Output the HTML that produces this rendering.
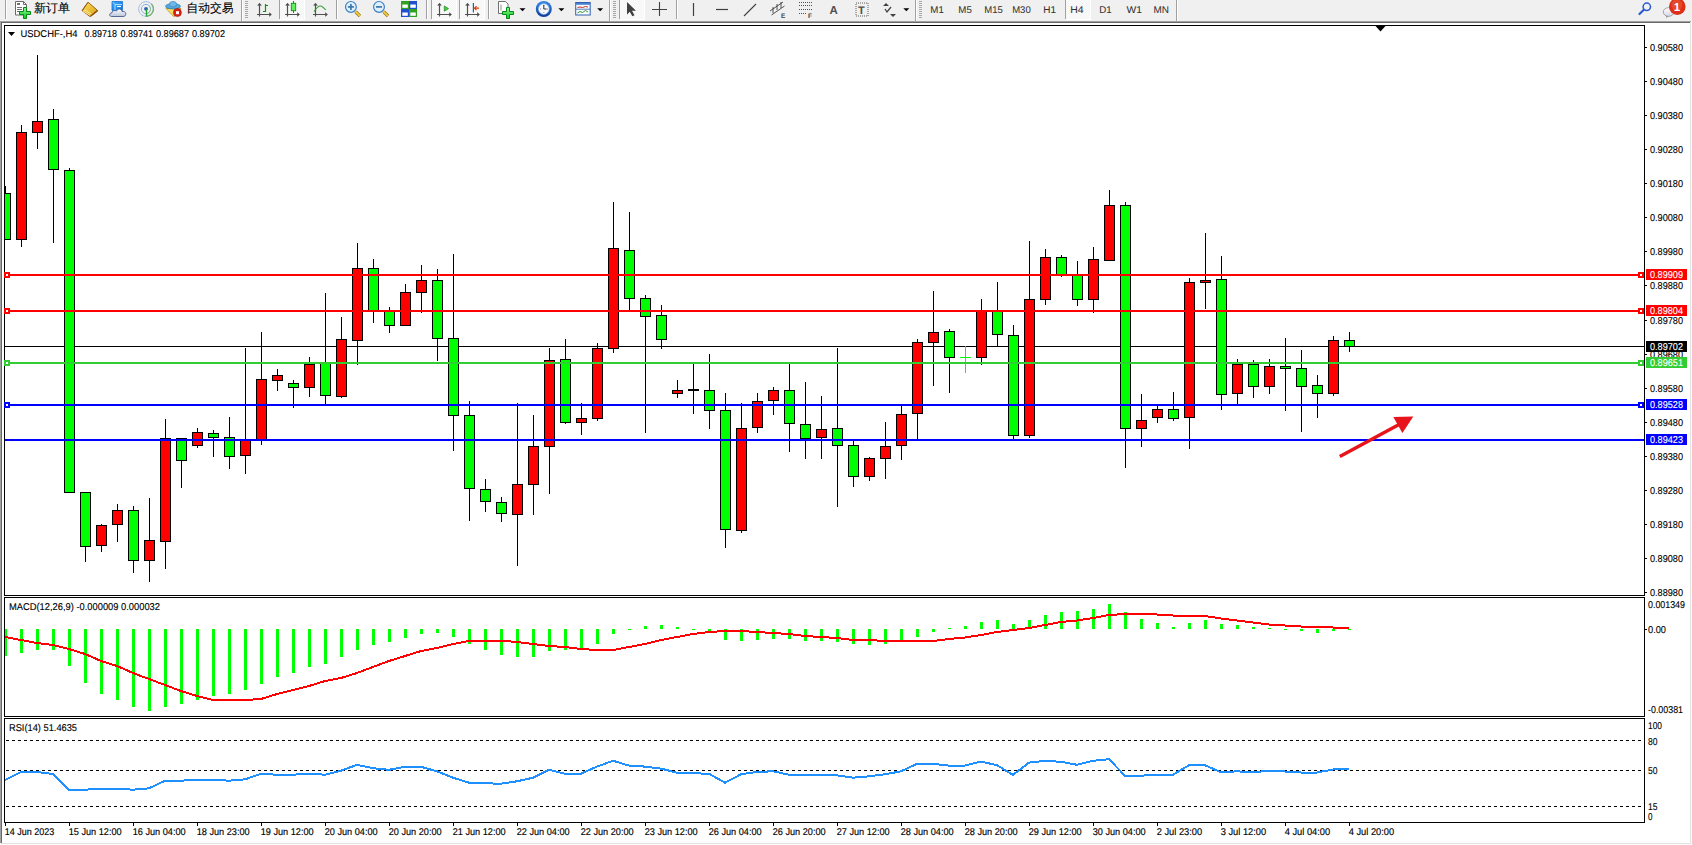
<!DOCTYPE html><html><head><meta charset="utf-8"><style>
html,body{margin:0;padding:0;width:1692px;height:845px;overflow:hidden;background:#f0f0f0}
svg{display:block;position:absolute;left:0;top:0}
text{font-family:"Liberation Sans",sans-serif;text-rendering:geometricPrecision}
</style></head><body>
<svg width="1692" height="845" viewBox="0 0 1692 845" shape-rendering="crispEdges">
<defs><clipPath id="cm"><rect x="5" y="26" width="1639" height="569"/></clipPath><clipPath id="cmacd"><rect x="5" y="598" width="1639" height="118"/></clipPath><clipPath id="crsi"><rect x="5" y="719" width="1639" height="103"/></clipPath></defs>
<rect x="0" y="0" width="1692" height="845" fill="#f0f0f0"/>
<g id="toolbar">
<rect x="5" y="0" width="1" height="19" fill="#a0a0a0"/>
<rect x="6" y="0" width="1" height="19" fill="#ffffff"/>
<rect x="279" y="0" width="1" height="19" fill="#a0a0a0"/>
<rect x="280" y="0" width="1" height="19" fill="#ffffff"/>
<rect x="336" y="0" width="1" height="19" fill="#a0a0a0"/>
<rect x="337" y="0" width="1" height="19" fill="#ffffff"/>
<rect x="426" y="0" width="1" height="19" fill="#a0a0a0"/>
<rect x="427" y="0" width="1" height="19" fill="#ffffff"/>
<rect x="431" y="0" width="1" height="19" fill="#a0a0a0"/>
<rect x="432" y="0" width="1" height="19" fill="#ffffff"/>
<rect x="459" y="0" width="1" height="19" fill="#a0a0a0"/>
<rect x="460" y="0" width="1" height="19" fill="#ffffff"/>
<rect x="488" y="0" width="1" height="19" fill="#a0a0a0"/>
<rect x="489" y="0" width="1" height="19" fill="#ffffff"/>
<rect x="619" y="0" width="1" height="19" fill="#a0a0a0"/>
<rect x="620" y="0" width="1" height="19" fill="#ffffff"/>
<rect x="676" y="0" width="1" height="19" fill="#a0a0a0"/>
<rect x="677" y="0" width="1" height="19" fill="#ffffff"/>
<rect x="1065" y="0" width="1" height="19" fill="#a0a0a0"/>
<rect x="1066" y="0" width="1" height="19" fill="#ffffff"/>
<rect x="241" y="0" width="1" height="21" fill="#a0a0a0"/>
<rect x="242" y="0" width="1" height="21" fill="#ffffff"/>
<rect x="609" y="0" width="1" height="21" fill="#a0a0a0"/>
<rect x="610" y="0" width="1" height="21" fill="#ffffff"/>
<rect x="915" y="0" width="1" height="21" fill="#a0a0a0"/>
<rect x="916" y="0" width="1" height="21" fill="#ffffff"/>
<rect x="1176" y="0" width="1" height="21" fill="#a0a0a0"/>
<rect x="1177" y="0" width="1" height="21" fill="#ffffff"/>
<rect x="245" y="1" width="3" height="1" fill="#a8a8a8"/>
<rect x="245" y="3" width="3" height="1" fill="#a8a8a8"/>
<rect x="245" y="5" width="3" height="1" fill="#a8a8a8"/>
<rect x="245" y="7" width="3" height="1" fill="#a8a8a8"/>
<rect x="245" y="9" width="3" height="1" fill="#a8a8a8"/>
<rect x="245" y="11" width="3" height="1" fill="#a8a8a8"/>
<rect x="245" y="13" width="3" height="1" fill="#a8a8a8"/>
<rect x="245" y="15" width="3" height="1" fill="#a8a8a8"/>
<rect x="245" y="17" width="3" height="1" fill="#a8a8a8"/>
<rect x="613" y="1" width="3" height="1" fill="#a8a8a8"/>
<rect x="613" y="3" width="3" height="1" fill="#a8a8a8"/>
<rect x="613" y="5" width="3" height="1" fill="#a8a8a8"/>
<rect x="613" y="7" width="3" height="1" fill="#a8a8a8"/>
<rect x="613" y="9" width="3" height="1" fill="#a8a8a8"/>
<rect x="613" y="11" width="3" height="1" fill="#a8a8a8"/>
<rect x="613" y="13" width="3" height="1" fill="#a8a8a8"/>
<rect x="613" y="15" width="3" height="1" fill="#a8a8a8"/>
<rect x="613" y="17" width="3" height="1" fill="#a8a8a8"/>
<rect x="919" y="1" width="3" height="1" fill="#a8a8a8"/>
<rect x="919" y="3" width="3" height="1" fill="#a8a8a8"/>
<rect x="919" y="5" width="3" height="1" fill="#a8a8a8"/>
<rect x="919" y="7" width="3" height="1" fill="#a8a8a8"/>
<rect x="919" y="9" width="3" height="1" fill="#a8a8a8"/>
<rect x="919" y="11" width="3" height="1" fill="#a8a8a8"/>
<rect x="919" y="13" width="3" height="1" fill="#a8a8a8"/>
<rect x="919" y="15" width="3" height="1" fill="#a8a8a8"/>
<rect x="919" y="17" width="3" height="1" fill="#a8a8a8"/>
<defs><pattern id="chk" width="2" height="2" patternUnits="userSpaceOnUse"><rect width="2" height="2" fill="#f4f4f4"/><rect width="1" height="1" fill="#fcfcfc"/><rect x="1" y="1" width="1" height="1" fill="#fcfcfc"/></pattern></defs>
<rect x="280" y="0" width="24" height="19" fill="url(#chk)"/>
<rect x="304" y="0" width="1" height="20" fill="#ffffff"/>
<rect x="280" y="19" width="24" height="1" fill="#ffffff"/>
<rect x="432" y="0" width="24" height="19" fill="url(#chk)"/>
<rect x="456" y="0" width="1" height="20" fill="#ffffff"/>
<rect x="432" y="19" width="24" height="1" fill="#ffffff"/>
<rect x="460" y="0" width="24" height="19" fill="url(#chk)"/>
<rect x="484" y="0" width="1" height="20" fill="#ffffff"/>
<rect x="460" y="19" width="24" height="1" fill="#ffffff"/>
<rect x="620" y="0" width="24" height="19" fill="url(#chk)"/>
<rect x="644" y="0" width="1" height="20" fill="#ffffff"/>
<rect x="620" y="19" width="24" height="1" fill="#ffffff"/>
<rect x="1066" y="0" width="24" height="19" fill="url(#chk)"/>
<rect x="1090" y="0" width="1" height="20" fill="#ffffff"/>
<rect x="1066" y="19" width="24" height="1" fill="#ffffff"/>
<defs><linearGradient id="gpl" x1="0" y1="0" x2="0" y2="1"><stop offset="0" stop-color="#9af09a"/><stop offset="1" stop-color="#00d020"/></linearGradient><linearGradient id="gyl" x1="0" y1="0" x2="1" y2="1"><stop offset="0" stop-color="#ffe060"/><stop offset="1" stop-color="#d8a010"/></linearGradient><linearGradient id="gcl" x1="0" y1="0" x2="0" y2="1"><stop offset="0" stop-color="#ffffff"/><stop offset="1" stop-color="#b8c4d8"/></linearGradient><linearGradient id="gbl" x1="0" y1="0" x2="1" y2="1"><stop offset="0" stop-color="#40b0ff"/><stop offset="1" stop-color="#0070e0"/></linearGradient></defs>
<g shape-rendering="geometricPrecision">
<path d="M15.5 1.5h8l3 3v10.5h-11z" fill="#fff" stroke="#6a6a6a" stroke-width="1"/>
<path d="M23.5 1.5v3h3" fill="none" stroke="#6a6a6a" stroke-width="1"/>
<rect x="17" y="3" width="3" height="2" fill="#707070"/>
<path d="M17 7.5h5M17 9.5h5M17 11.5h3" stroke="#707070" stroke-width="1"/>
<path d="M23.5 7.5h3v4h4v3h-4v4h-3v-4h-4v-3h4z" fill="url(#gpl)" stroke="#008a10" stroke-width="1"/>
<path d="M88 2.2 L97.7 10.5 L90 16.6 L82 10.5 Z" fill="url(#gyl)" stroke="#9a6010" stroke-width="1"/>
<path d="M83 11 L90.5 15.5 M84 9.5 L91.5 14" stroke="#f8e8a0" stroke-width="1"/>
<path d="M88 2.5 C86 5 85 7 82.5 10.5" stroke="#9a6010" stroke-width="1" fill="none"/>
<path d="M90.5 16.2 L97.5 10.6" stroke="#8a5008" stroke-width="1.4" fill="none"/>
<path d="M112 1.5h10.5v9h-10.5z" fill="url(#gbl)" stroke="#1a70d0" stroke-width="0.8"/>
<path d="M113 2.5l2 2v6M115 4.5h7" stroke="#c0e4ff" stroke-width="0.9" fill="none"/>
<path d="M117 6.5h4" stroke="#fff" stroke-width="1.2"/>
<path d="M111.5 16.5 C109 16.5 109 12.8 112 12.8 C112 10.5 115 10 116.5 11 C117.5 8.3 121.5 8.3 122 11.5 C125 11 126.5 13 125.5 15 C125 16.3 124 16.5 123 16.5 Z" fill="url(#gcl)" stroke="#485a8a" stroke-width="0.9"/>
<circle cx="146" cy="9" r="7.3" fill="none" stroke="#7aa0d8" stroke-width="1" stroke-dasharray="1.2,0.6"/>
<path d="M151.2 3.8 A7.3 7.3 0 0 1 146 16.3" fill="none" stroke="#70b070" stroke-width="1.2"/>
<circle cx="146" cy="9" r="4.6" fill="none" stroke="#8ab0d8" stroke-width="1"/>
<path d="M149.3 5.8 A4.6 4.6 0 0 1 146 13.6" fill="none" stroke="#90c090" stroke-width="1"/>
<circle cx="146" cy="8.8" r="1.9" fill="#2a5ac8"/>
<path d="M146.5 9v7.5" stroke="#20a030" stroke-width="1.3" fill="none"/>
<path d="M166 8.5 L181 8.5 L174 16.8 Z" fill="#f8e060" stroke="#c09020" stroke-width="0.8"/>
<ellipse cx="173" cy="6.3" rx="7.5" ry="2.6" fill="#58a8e0" stroke="#2a80b0" stroke-width="0.8"/>
<ellipse cx="173" cy="4.2" rx="3.6" ry="2.8" fill="#70b8ea" stroke="#2a80b0" stroke-width="0.6"/>
<circle cx="177.4" cy="12.6" r="4" fill="#e02010" stroke="#a01008" stroke-width="0.6"/>
<rect x="176" y="11.2" width="3" height="3" fill="#fff"/>
<path d="M259.5 3.5v13M257.0 14.5h14" stroke="#505050" stroke-width="1.2" fill="none"/>
<path d="M257.7 5.3l1.8-2l1.8 2z M269.5 12.7l2 1.8l-2 1.8z" fill="#505050" stroke="#505050" stroke-width="0.6"/>
<path d="M287.5 3.5v13M285.0 14.5h14" stroke="#505050" stroke-width="1.2" fill="none"/>
<path d="M285.7 5.3l1.8-2l1.8 2z M297.5 12.7l2 1.8l-2 1.8z" fill="#505050" stroke="#505050" stroke-width="0.6"/>
<path d="M315.5 3.5v13M313.0 14.5h14" stroke="#505050" stroke-width="1.2" fill="none"/>
<path d="M313.7 5.3l1.8-2l1.8 2z M325.5 12.7l2 1.8l-2 1.8z" fill="#505050" stroke="#505050" stroke-width="0.6"/>
<path d="M439.5 3.5v13M437.0 14.5h14" stroke="#505050" stroke-width="1.2" fill="none"/>
<path d="M437.7 5.3l1.8-2l1.8 2z M449.5 12.7l2 1.8l-2 1.8z" fill="#505050" stroke="#505050" stroke-width="0.6"/>
<path d="M467.5 3.5v13M465.0 14.5h14" stroke="#505050" stroke-width="1.2" fill="none"/>
<path d="M465.7 5.3l1.8-2l1.8 2z M477.5 12.7l2 1.8l-2 1.8z" fill="#505050" stroke="#505050" stroke-width="0.6"/>
<path d="M263 11.5h2.5v-7.5M265.5 5.5h2.5" stroke="#109010" stroke-width="1.2" fill="none"/>
<rect x="291.3" y="3.3" width="4.4" height="7.4" fill="#60f060" stroke="#109010" stroke-width="0.9"/>
<path d="M293.5 1v2.3M293.5 10.7v2.3" stroke="#109010" stroke-width="1"/>
<path d="M314 11.5 C317 7 319 5.5 321 6 C323 6.5 324 9 326 9.8" stroke="#30a030" stroke-width="1.1" fill="none"/>
<path d="M444.3 6 L448.5 8.6 L444.3 11.2 Z" fill="#40d040" stroke="#209020" stroke-width="0.8"/>
<path d="M473.4 3v9.5" stroke="#2060b0" stroke-width="1.2"/>
<path d="M479 8.2h-4.5M476.5 6.2l-2 2l2 2" stroke="#e04010" stroke-width="1.2" fill="none"/>
<path d="M355.5 11.6 L359.9 16" stroke="#9a6a10" stroke-width="3.2"/>
<path d="M355.5 11.6 L359.9 16" stroke="#f0d040" stroke-width="1.8"/>
<circle cx="350.9" cy="6.9" r="5.4" fill="#dff0fc" stroke="#3a80c8" stroke-width="1.2"/>
<path d="M347.9 6.9h6" stroke="#3a78a8" stroke-width="1.7"/>
<path d="M350.9 3.9v6" stroke="#3a78a8" stroke-width="1.7"/>
<path d="M383.6 11.6 L388 16" stroke="#9a6a10" stroke-width="3.2"/>
<path d="M383.6 11.6 L388 16" stroke="#f0d040" stroke-width="1.8"/>
<circle cx="379" cy="6.9" r="5.4" fill="#dff0fc" stroke="#3a80c8" stroke-width="1.2"/>
<path d="M376 6.9h6" stroke="#3a78a8" stroke-width="1.7"/>
<rect x="401" y="1" width="8" height="8" fill="#30a020"/><rect x="409" y="1" width="8" height="8" fill="#2050d0"/>
<rect x="401" y="9" width="8" height="8" fill="#2050d0"/><rect x="409" y="9" width="8" height="8" fill="#30a020"/>
<rect x="402.3" y="4.5" width="5.5" height="3.3" fill="#fff"/>
<rect x="410.3" y="4.5" width="5.5" height="3.3" fill="#fff"/>
<rect x="402.3" y="12.5" width="5.5" height="3.3" fill="#fff"/>
<rect x="410.3" y="12.5" width="5.5" height="3.3" fill="#fff"/>
<path d="M498.5 1.5h7l2.5 2.5v9.5h-9.5z" fill="#fff" stroke="#707070"/>
<path d="M501 4.5v6" stroke="#909090" stroke-width="1"/>
<path d="M506.5 7.5h3v4h4v3h-4v4h-3v-4h-4v-3h4z" fill="url(#gpl)" stroke="#008a10" stroke-width="1"/>
<defs><linearGradient id="gclk" x1="0" y1="0" x2="0" y2="1"><stop offset="0" stop-color="#3a8ae8"/><stop offset="1" stop-color="#0a3a98"/></linearGradient></defs>
<circle cx="543.8" cy="9" r="8" fill="url(#gclk)"/><circle cx="543.8" cy="9" r="5.4" fill="#f4f8fc" stroke="#8ab0e0" stroke-width="0.6"/>
<path d="M543.8 5v1M543.8 12v1M540 9h1M547 9h1" stroke="#707070" stroke-width="0.7"/>
<path d="M543.8 4.8v4.2h2.8" stroke="#303030" stroke-width="1" fill="none"/>
<rect x="575.7" y="2.5" width="14.5" height="12.5" fill="#f8fbff" stroke="#3060b0" stroke-width="1"/>
<rect x="576" y="3" width="14" height="1.8" fill="#4a80d0"/>
<path d="M576 9.2h14" stroke="#3060b0" stroke-width="0.8"/>
<path d="M577.5 7.5l2.5-0.5l2.5 0.5l3-1l2.5 0.5" stroke="#c03020" stroke-width="1" fill="none"/>
<path d="M577.5 13l2.5-1.5l2.5 1l3-2l2.5 1.5" stroke="#30a030" stroke-width="1" fill="none"/>
<path d="M519.5 8.3h6l-3 3z" fill="#000"/>
<path d="M558.4 8.3h6l-3 3z" fill="#000"/>
<path d="M597.2 8.3h6l-3 3z" fill="#000"/>
<path d="M903.3 8.3h6l-3 3z" fill="#000"/>
<path d="M627 2 L627 14.5 L629.8 11.8 L632.3 16.3 L634.5 15.2 L632 10.8 L636 10.8 Z" fill="#404040"/>
<path d="M659.5 2v14M652 9.5h15" stroke="#404040" stroke-width="1.1"/>
<path d="M693.5 3v13" stroke="#404040" stroke-width="1.2"/>
<path d="M716 9.5h12" stroke="#404040" stroke-width="1.2"/>
<path d="M744 16L756 4" stroke="#404040" stroke-width="1.1"/>
<path d="M770 11L783 2M771.5 15L784.5 6M773 7v6M777 4v6M781 2v6" stroke="#404040" stroke-width="0.9" fill="none"/>
<text x="781" y="17.6" font-size="6.5" font-weight="bold" fill="#404040">E</text>
<path d="M799 2.5h14M799 5.5h14M799 9.5h14M799 13.5h8" stroke="#505050" stroke-width="1" stroke-dasharray="1,1" fill="none"/>
<text x="808" y="17.6" font-size="6.5" font-weight="bold" fill="#404040">F</text>
<text x="829.5" y="14" font-size="11.5" font-weight="bold" fill="#505050">A</text>
<rect x="856" y="3" width="12" height="13" fill="none" stroke="#606060" stroke-width="1" stroke-dasharray="1,1"/>
<text x="858" y="14" font-size="11" font-weight="bold" fill="#505050">T</text>
<path d="M883 6l3-3l3 3z M890 14l3 3l3-3z" fill="#404040"/>
<path d="M885 9l2 3l4-5" stroke="#404040" stroke-width="1.3" fill="none"/>
</g>
<text x="34" y="12" font-size="12" fill="#000" stroke="#000" stroke-width="0.12" textLength="36" lengthAdjust="spacingAndGlyphs">新订单</text>
<text x="186.5" y="12" font-size="12" fill="#000" stroke="#000" stroke-width="0.12" textLength="47" lengthAdjust="spacingAndGlyphs">自动交易</text>
<text x="930.3" y="13" font-size="9.8" fill="#333333" stroke="#333333" stroke-width="0.05" textLength="13.5" lengthAdjust="spacingAndGlyphs">M1</text>
<text x="958.3" y="13" font-size="9.8" fill="#333333" stroke="#333333" stroke-width="0.05" textLength="13.5" lengthAdjust="spacingAndGlyphs">M5</text>
<text x="984.3" y="13" font-size="9.8" fill="#333333" stroke="#333333" stroke-width="0.05" textLength="18.5" lengthAdjust="spacingAndGlyphs">M15</text>
<text x="1012.2" y="13" font-size="9.8" fill="#333333" stroke="#333333" stroke-width="0.05" textLength="18.5" lengthAdjust="spacingAndGlyphs">M30</text>
<text x="1043.2" y="13" font-size="9.8" fill="#333333" stroke="#333333" stroke-width="0.05" textLength="12.8" lengthAdjust="spacingAndGlyphs">H1</text>
<text x="1070.3" y="13" font-size="9.8" fill="#333333" stroke="#333333" stroke-width="0.05" textLength="13.4" lengthAdjust="spacingAndGlyphs">H4</text>
<text x="1099.2" y="13" font-size="9.8" fill="#333333" stroke="#333333" stroke-width="0.05" textLength="12.5" lengthAdjust="spacingAndGlyphs">D1</text>
<text x="1126.4" y="13" font-size="9.8" fill="#333333" stroke="#333333" stroke-width="0.05" textLength="15.5" lengthAdjust="spacingAndGlyphs">W1</text>
<text x="1153.4" y="13" font-size="9.8" fill="#333333" stroke="#333333" stroke-width="0.05" textLength="15.5" lengthAdjust="spacingAndGlyphs">MN</text>
<g shape-rendering="geometricPrecision">
<circle cx="1646.8" cy="6.8" r="3.7" fill="none" stroke="#2a5ad0" stroke-width="1.5"/>
<path d="M1643.8 9.8L1639.5 14" stroke="#2a5ad0" stroke-width="2.2" stroke-linecap="round"/>
<defs><linearGradient id="gbub" x1="0" y1="0" x2="0" y2="1"><stop offset="0" stop-color="#ffffff"/><stop offset="1" stop-color="#d4d6e6"/></linearGradient></defs>
<path d="M1666 15.5 L1666.3 18 L1669 16 Z" fill="#909090"/>
<ellipse cx="1668.6" cy="12" rx="5.4" ry="4.3" fill="url(#gbub)" stroke="#9a9a9a" stroke-width="0.9"/>
<circle cx="1677.3" cy="6.6" r="8.3" fill="#dc3018"/>
<circle cx="1676.8" cy="5" r="5.5" fill="#f06040" opacity="0.5"/>
<text x="1673.8" y="11" font-size="11.5" fill="#fff" font-weight="bold" font-family="Liberation Serif">1</text>
</g>
</g>
<rect x="0" y="21" width="1691" height="1" fill="#a0a0a0"/>
<rect x="1" y="22" width="1690" height="1" fill="#696969"/>
<rect x="0" y="21" width="1" height="822" fill="#a0a0a0"/>
<rect x="1" y="22" width="1" height="821" fill="#696969"/>
<rect x="2" y="23" width="1688" height="820" fill="#ffffff"/>
<rect x="1690" y="22" width="1" height="822" fill="#e3e3e3"/>
<rect x="1" y="843" width="1690" height="1" fill="#e3e3e3"/>
<rect x="1691" y="21" width="1" height="824" fill="#fbfbfb"/>
<rect x="0" y="844" width="1692" height="1" fill="#fbfbfb"/>
<rect x="4" y="25" width="1641" height="1" fill="#000"/>
<rect x="4" y="595" width="1641" height="1" fill="#000"/>
<rect x="4" y="25" width="1" height="571" fill="#000"/>
<rect x="1644" y="25" width="1" height="571" fill="#000"/>
<rect x="4" y="597" width="1641" height="1" fill="#000"/>
<rect x="4" y="716" width="1641" height="1" fill="#000"/>
<rect x="4" y="597" width="1" height="120" fill="#000"/>
<rect x="1644" y="597" width="1" height="120" fill="#000"/>
<rect x="4" y="718" width="1641" height="1" fill="#000"/>
<rect x="4" y="822" width="1641" height="1" fill="#000"/>
<rect x="4" y="718" width="1" height="105" fill="#000"/>
<rect x="1644" y="718" width="1" height="105" fill="#000"/>
<rect x="1645" y="47" width="2" height="1" fill="#000"/>
<text x="1650" y="51" font-size="9.9" fill="#000" stroke="#000" stroke-width="0.12" textLength="33" lengthAdjust="spacingAndGlyphs">0.90580</text>
<rect x="1645" y="81" width="2" height="1" fill="#000"/>
<text x="1650" y="85" font-size="9.9" fill="#000" stroke="#000" stroke-width="0.12" textLength="33" lengthAdjust="spacingAndGlyphs">0.90480</text>
<rect x="1645" y="115" width="2" height="1" fill="#000"/>
<text x="1650" y="119" font-size="9.9" fill="#000" stroke="#000" stroke-width="0.12" textLength="33" lengthAdjust="spacingAndGlyphs">0.90380</text>
<rect x="1645" y="149" width="2" height="1" fill="#000"/>
<text x="1650" y="153" font-size="9.9" fill="#000" stroke="#000" stroke-width="0.12" textLength="33" lengthAdjust="spacingAndGlyphs">0.90280</text>
<rect x="1645" y="183" width="2" height="1" fill="#000"/>
<text x="1650" y="187" font-size="9.9" fill="#000" stroke="#000" stroke-width="0.12" textLength="33" lengthAdjust="spacingAndGlyphs">0.90180</text>
<rect x="1645" y="217" width="2" height="1" fill="#000"/>
<text x="1650" y="221" font-size="9.9" fill="#000" stroke="#000" stroke-width="0.12" textLength="33" lengthAdjust="spacingAndGlyphs">0.90080</text>
<rect x="1645" y="251" width="2" height="1" fill="#000"/>
<text x="1650" y="255" font-size="9.9" fill="#000" stroke="#000" stroke-width="0.12" textLength="33" lengthAdjust="spacingAndGlyphs">0.89980</text>
<rect x="1645" y="285" width="2" height="1" fill="#000"/>
<text x="1650" y="289" font-size="9.9" fill="#000" stroke="#000" stroke-width="0.12" textLength="33" lengthAdjust="spacingAndGlyphs">0.89880</text>
<rect x="1645" y="320" width="2" height="1" fill="#000"/>
<text x="1650" y="324" font-size="9.9" fill="#000" stroke="#000" stroke-width="0.12" textLength="33" lengthAdjust="spacingAndGlyphs">0.89780</text>
<rect x="1645" y="354" width="2" height="1" fill="#000"/>
<text x="1650" y="358" font-size="9.9" fill="#000" stroke="#000" stroke-width="0.12" textLength="33" lengthAdjust="spacingAndGlyphs">0.89680</text>
<rect x="1645" y="388" width="2" height="1" fill="#000"/>
<text x="1650" y="392" font-size="9.9" fill="#000" stroke="#000" stroke-width="0.12" textLength="33" lengthAdjust="spacingAndGlyphs">0.89580</text>
<rect x="1645" y="422" width="2" height="1" fill="#000"/>
<text x="1650" y="426" font-size="9.9" fill="#000" stroke="#000" stroke-width="0.12" textLength="33" lengthAdjust="spacingAndGlyphs">0.89480</text>
<rect x="1645" y="456" width="2" height="1" fill="#000"/>
<text x="1650" y="460" font-size="9.9" fill="#000" stroke="#000" stroke-width="0.12" textLength="33" lengthAdjust="spacingAndGlyphs">0.89380</text>
<rect x="1645" y="490" width="2" height="1" fill="#000"/>
<text x="1650" y="494" font-size="9.9" fill="#000" stroke="#000" stroke-width="0.12" textLength="33" lengthAdjust="spacingAndGlyphs">0.89280</text>
<rect x="1645" y="524" width="2" height="1" fill="#000"/>
<text x="1650" y="528" font-size="9.9" fill="#000" stroke="#000" stroke-width="0.12" textLength="33" lengthAdjust="spacingAndGlyphs">0.89180</text>
<rect x="1645" y="558" width="2" height="1" fill="#000"/>
<text x="1650" y="562" font-size="9.9" fill="#000" stroke="#000" stroke-width="0.12" textLength="33" lengthAdjust="spacingAndGlyphs">0.89080</text>
<rect x="1645" y="592" width="2" height="1" fill="#000"/>
<text x="1650" y="596" font-size="9.9" fill="#000" stroke="#000" stroke-width="0.12" textLength="33" lengthAdjust="spacingAndGlyphs">0.88980</text>
<g clip-path="url(#cm)">
<rect x="5" y="346" width="1639" height="1" fill="#000"/>
<rect x="5" y="186" width="1" height="54" fill="#000"/>
<rect x="0" y="193" width="11" height="47" fill="#000"/>
<rect x="1" y="194" width="9" height="45" fill="#00ff00"/>
<rect x="21" y="125" width="1" height="122" fill="#000"/>
<rect x="16" y="132" width="11" height="108" fill="#000"/>
<rect x="17" y="133" width="9" height="106" fill="#ff0000"/>
<rect x="37" y="55" width="1" height="94" fill="#000"/>
<rect x="32" y="121" width="11" height="12" fill="#000"/>
<rect x="33" y="122" width="9" height="10" fill="#ff0000"/>
<rect x="53" y="109" width="1" height="134" fill="#000"/>
<rect x="48" y="119" width="11" height="51" fill="#000"/>
<rect x="49" y="120" width="9" height="49" fill="#00ff00"/>
<rect x="69" y="168" width="1" height="325" fill="#000"/>
<rect x="64" y="170" width="11" height="323" fill="#000"/>
<rect x="65" y="171" width="9" height="321" fill="#00ff00"/>
<rect x="85" y="492" width="1" height="70" fill="#000"/>
<rect x="80" y="492" width="11" height="55" fill="#000"/>
<rect x="81" y="493" width="9" height="53" fill="#00ff00"/>
<rect x="101" y="524" width="1" height="28" fill="#000"/>
<rect x="96" y="525" width="11" height="21" fill="#000"/>
<rect x="97" y="526" width="9" height="19" fill="#ff0000"/>
<rect x="117" y="504" width="1" height="38" fill="#000"/>
<rect x="112" y="510" width="11" height="15" fill="#000"/>
<rect x="113" y="511" width="9" height="13" fill="#ff0000"/>
<rect x="133" y="506" width="1" height="67" fill="#000"/>
<rect x="128" y="510" width="11" height="51" fill="#000"/>
<rect x="129" y="511" width="9" height="49" fill="#00ff00"/>
<rect x="149" y="498" width="1" height="84" fill="#000"/>
<rect x="144" y="540" width="11" height="21" fill="#000"/>
<rect x="145" y="541" width="9" height="19" fill="#ff0000"/>
<rect x="165" y="419" width="1" height="150" fill="#000"/>
<rect x="160" y="438" width="11" height="104" fill="#000"/>
<rect x="161" y="439" width="9" height="102" fill="#ff0000"/>
<rect x="181" y="438" width="1" height="50" fill="#000"/>
<rect x="176" y="438" width="11" height="23" fill="#000"/>
<rect x="177" y="439" width="9" height="21" fill="#00ff00"/>
<rect x="197" y="428" width="1" height="20" fill="#000"/>
<rect x="192" y="432" width="11" height="14" fill="#000"/>
<rect x="193" y="433" width="9" height="12" fill="#ff0000"/>
<rect x="213" y="430" width="1" height="27" fill="#000"/>
<rect x="208" y="433" width="11" height="5" fill="#000"/>
<rect x="209" y="434" width="9" height="3" fill="#00ff00"/>
<rect x="229" y="417" width="1" height="52" fill="#000"/>
<rect x="224" y="437" width="11" height="20" fill="#000"/>
<rect x="225" y="438" width="9" height="18" fill="#00ff00"/>
<rect x="245" y="348" width="1" height="126" fill="#000"/>
<rect x="240" y="440" width="11" height="16" fill="#000"/>
<rect x="241" y="441" width="9" height="14" fill="#ff0000"/>
<rect x="261" y="332" width="1" height="113" fill="#000"/>
<rect x="256" y="379" width="11" height="61" fill="#000"/>
<rect x="257" y="380" width="9" height="59" fill="#ff0000"/>
<rect x="277" y="369" width="1" height="22" fill="#000"/>
<rect x="272" y="375" width="11" height="6" fill="#000"/>
<rect x="273" y="376" width="9" height="4" fill="#ff0000"/>
<rect x="293" y="380" width="1" height="28" fill="#000"/>
<rect x="288" y="383" width="11" height="5" fill="#000"/>
<rect x="289" y="384" width="9" height="3" fill="#00ff00"/>
<rect x="309" y="357" width="1" height="40" fill="#000"/>
<rect x="304" y="364" width="11" height="24" fill="#000"/>
<rect x="305" y="365" width="9" height="22" fill="#ff0000"/>
<rect x="325" y="293" width="1" height="111" fill="#000"/>
<rect x="320" y="363" width="11" height="33" fill="#000"/>
<rect x="321" y="364" width="9" height="31" fill="#00ff00"/>
<rect x="341" y="317" width="1" height="81" fill="#000"/>
<rect x="336" y="339" width="11" height="58" fill="#000"/>
<rect x="337" y="340" width="9" height="56" fill="#ff0000"/>
<rect x="357" y="243" width="1" height="122" fill="#000"/>
<rect x="352" y="268" width="11" height="73" fill="#000"/>
<rect x="353" y="269" width="9" height="71" fill="#ff0000"/>
<rect x="373" y="259" width="1" height="64" fill="#000"/>
<rect x="368" y="268" width="11" height="43" fill="#000"/>
<rect x="369" y="269" width="9" height="41" fill="#00ff00"/>
<rect x="389" y="307" width="1" height="26" fill="#000"/>
<rect x="384" y="311" width="11" height="15" fill="#000"/>
<rect x="385" y="312" width="9" height="13" fill="#00ff00"/>
<rect x="405" y="284" width="1" height="42" fill="#000"/>
<rect x="400" y="292" width="11" height="34" fill="#000"/>
<rect x="401" y="293" width="9" height="32" fill="#ff0000"/>
<rect x="421" y="265" width="1" height="48" fill="#000"/>
<rect x="416" y="280" width="11" height="13" fill="#000"/>
<rect x="417" y="281" width="9" height="11" fill="#ff0000"/>
<rect x="437" y="269" width="1" height="92" fill="#000"/>
<rect x="432" y="280" width="11" height="59" fill="#000"/>
<rect x="433" y="281" width="9" height="57" fill="#00ff00"/>
<rect x="453" y="254" width="1" height="197" fill="#000"/>
<rect x="448" y="338" width="11" height="78" fill="#000"/>
<rect x="449" y="339" width="9" height="76" fill="#00ff00"/>
<rect x="469" y="401" width="1" height="120" fill="#000"/>
<rect x="464" y="415" width="11" height="74" fill="#000"/>
<rect x="465" y="416" width="9" height="72" fill="#00ff00"/>
<rect x="485" y="479" width="1" height="33" fill="#000"/>
<rect x="480" y="489" width="11" height="13" fill="#000"/>
<rect x="481" y="490" width="9" height="11" fill="#00ff00"/>
<rect x="501" y="497" width="1" height="25" fill="#000"/>
<rect x="496" y="502" width="11" height="12" fill="#000"/>
<rect x="497" y="503" width="9" height="10" fill="#00ff00"/>
<rect x="517" y="403" width="1" height="163" fill="#000"/>
<rect x="512" y="484" width="11" height="31" fill="#000"/>
<rect x="513" y="485" width="9" height="29" fill="#ff0000"/>
<rect x="533" y="415" width="1" height="100" fill="#000"/>
<rect x="528" y="446" width="11" height="39" fill="#000"/>
<rect x="529" y="447" width="9" height="37" fill="#ff0000"/>
<rect x="549" y="348" width="1" height="146" fill="#000"/>
<rect x="544" y="360" width="11" height="87" fill="#000"/>
<rect x="545" y="361" width="9" height="85" fill="#ff0000"/>
<rect x="565" y="339" width="1" height="85" fill="#000"/>
<rect x="560" y="359" width="11" height="64" fill="#000"/>
<rect x="561" y="360" width="9" height="62" fill="#00ff00"/>
<rect x="581" y="403" width="1" height="32" fill="#000"/>
<rect x="576" y="418" width="11" height="5" fill="#000"/>
<rect x="577" y="419" width="9" height="3" fill="#ff0000"/>
<rect x="597" y="343" width="1" height="78" fill="#000"/>
<rect x="592" y="348" width="11" height="71" fill="#000"/>
<rect x="593" y="349" width="9" height="69" fill="#ff0000"/>
<rect x="613" y="202" width="1" height="151" fill="#000"/>
<rect x="608" y="248" width="11" height="101" fill="#000"/>
<rect x="609" y="249" width="9" height="99" fill="#ff0000"/>
<rect x="629" y="212" width="1" height="99" fill="#000"/>
<rect x="624" y="250" width="11" height="49" fill="#000"/>
<rect x="625" y="251" width="9" height="47" fill="#00ff00"/>
<rect x="645" y="295" width="1" height="138" fill="#000"/>
<rect x="640" y="298" width="11" height="19" fill="#000"/>
<rect x="641" y="299" width="9" height="17" fill="#00ff00"/>
<rect x="661" y="305" width="1" height="44" fill="#000"/>
<rect x="656" y="315" width="11" height="25" fill="#000"/>
<rect x="657" y="316" width="9" height="23" fill="#00ff00"/>
<rect x="677" y="380" width="1" height="18" fill="#000"/>
<rect x="672" y="390" width="11" height="4" fill="#000"/>
<rect x="673" y="391" width="9" height="2" fill="#ff0000"/>
<rect x="693" y="364" width="1" height="50" fill="#000"/>
<rect x="688" y="389" width="11" height="2" fill="#000"/>
<rect x="709" y="354" width="1" height="75" fill="#000"/>
<rect x="704" y="390" width="11" height="21" fill="#000"/>
<rect x="705" y="391" width="9" height="19" fill="#00ff00"/>
<rect x="725" y="393" width="1" height="155" fill="#000"/>
<rect x="720" y="410" width="11" height="120" fill="#000"/>
<rect x="721" y="411" width="9" height="118" fill="#00ff00"/>
<rect x="741" y="403" width="1" height="130" fill="#000"/>
<rect x="736" y="428" width="11" height="103" fill="#000"/>
<rect x="737" y="429" width="9" height="101" fill="#ff0000"/>
<rect x="757" y="393" width="1" height="40" fill="#000"/>
<rect x="752" y="401" width="11" height="27" fill="#000"/>
<rect x="753" y="402" width="9" height="25" fill="#ff0000"/>
<rect x="773" y="387" width="1" height="28" fill="#000"/>
<rect x="768" y="390" width="11" height="11" fill="#000"/>
<rect x="769" y="391" width="9" height="9" fill="#ff0000"/>
<rect x="789" y="364" width="1" height="88" fill="#000"/>
<rect x="784" y="390" width="11" height="34" fill="#000"/>
<rect x="785" y="391" width="9" height="32" fill="#00ff00"/>
<rect x="805" y="382" width="1" height="77" fill="#000"/>
<rect x="800" y="424" width="11" height="15" fill="#000"/>
<rect x="801" y="425" width="9" height="13" fill="#00ff00"/>
<rect x="821" y="396" width="1" height="63" fill="#000"/>
<rect x="816" y="429" width="11" height="9" fill="#000"/>
<rect x="817" y="430" width="9" height="7" fill="#ff0000"/>
<rect x="837" y="348" width="1" height="159" fill="#000"/>
<rect x="832" y="428" width="11" height="18" fill="#000"/>
<rect x="833" y="429" width="9" height="16" fill="#00ff00"/>
<rect x="853" y="441" width="1" height="46" fill="#000"/>
<rect x="848" y="445" width="11" height="32" fill="#000"/>
<rect x="849" y="446" width="9" height="30" fill="#00ff00"/>
<rect x="869" y="457" width="1" height="24" fill="#000"/>
<rect x="864" y="458" width="11" height="19" fill="#000"/>
<rect x="865" y="459" width="9" height="17" fill="#ff0000"/>
<rect x="885" y="422" width="1" height="57" fill="#000"/>
<rect x="880" y="446" width="11" height="13" fill="#000"/>
<rect x="881" y="447" width="9" height="11" fill="#ff0000"/>
<rect x="901" y="406" width="1" height="54" fill="#000"/>
<rect x="896" y="414" width="11" height="32" fill="#000"/>
<rect x="897" y="415" width="9" height="30" fill="#ff0000"/>
<rect x="917" y="339" width="1" height="101" fill="#000"/>
<rect x="912" y="342" width="11" height="72" fill="#000"/>
<rect x="913" y="343" width="9" height="70" fill="#ff0000"/>
<rect x="933" y="291" width="1" height="95" fill="#000"/>
<rect x="928" y="332" width="11" height="11" fill="#000"/>
<rect x="929" y="333" width="9" height="9" fill="#ff0000"/>
<rect x="949" y="329" width="1" height="64" fill="#000"/>
<rect x="944" y="331" width="11" height="27" fill="#000"/>
<rect x="945" y="332" width="9" height="25" fill="#00ff00"/>
<rect x="965" y="346" width="1" height="27" fill="#00ff00"/>
<rect x="960" y="357" width="11" height="1" fill="#00ff00"/>
<rect x="981" y="299" width="1" height="66" fill="#000"/>
<rect x="976" y="311" width="11" height="47" fill="#000"/>
<rect x="977" y="312" width="9" height="45" fill="#ff0000"/>
<rect x="997" y="282" width="1" height="65" fill="#000"/>
<rect x="992" y="311" width="11" height="24" fill="#000"/>
<rect x="993" y="312" width="9" height="22" fill="#00ff00"/>
<rect x="1013" y="325" width="1" height="115" fill="#000"/>
<rect x="1008" y="335" width="11" height="101" fill="#000"/>
<rect x="1009" y="336" width="9" height="99" fill="#00ff00"/>
<rect x="1029" y="241" width="1" height="197" fill="#000"/>
<rect x="1024" y="299" width="11" height="137" fill="#000"/>
<rect x="1025" y="300" width="9" height="135" fill="#ff0000"/>
<rect x="1045" y="249" width="1" height="56" fill="#000"/>
<rect x="1040" y="257" width="11" height="43" fill="#000"/>
<rect x="1041" y="258" width="9" height="41" fill="#ff0000"/>
<rect x="1061" y="255" width="1" height="22" fill="#000"/>
<rect x="1056" y="257" width="11" height="18" fill="#000"/>
<rect x="1057" y="258" width="9" height="16" fill="#00ff00"/>
<rect x="1077" y="261" width="1" height="45" fill="#000"/>
<rect x="1072" y="275" width="11" height="25" fill="#000"/>
<rect x="1073" y="276" width="9" height="23" fill="#00ff00"/>
<rect x="1093" y="247" width="1" height="66" fill="#000"/>
<rect x="1088" y="259" width="11" height="41" fill="#000"/>
<rect x="1089" y="260" width="9" height="39" fill="#ff0000"/>
<rect x="1109" y="190" width="1" height="71" fill="#000"/>
<rect x="1104" y="205" width="11" height="56" fill="#000"/>
<rect x="1105" y="206" width="9" height="54" fill="#ff0000"/>
<rect x="1125" y="202" width="1" height="266" fill="#000"/>
<rect x="1120" y="205" width="11" height="224" fill="#000"/>
<rect x="1121" y="206" width="9" height="222" fill="#00ff00"/>
<rect x="1141" y="394" width="1" height="53" fill="#000"/>
<rect x="1136" y="420" width="11" height="9" fill="#000"/>
<rect x="1137" y="421" width="9" height="7" fill="#ff0000"/>
<rect x="1157" y="406" width="1" height="17" fill="#000"/>
<rect x="1152" y="409" width="11" height="9" fill="#000"/>
<rect x="1153" y="410" width="9" height="7" fill="#ff0000"/>
<rect x="1173" y="392" width="1" height="29" fill="#000"/>
<rect x="1168" y="409" width="11" height="10" fill="#000"/>
<rect x="1169" y="410" width="9" height="8" fill="#00ff00"/>
<rect x="1189" y="278" width="1" height="171" fill="#000"/>
<rect x="1184" y="282" width="11" height="136" fill="#000"/>
<rect x="1185" y="283" width="9" height="134" fill="#ff0000"/>
<rect x="1205" y="233" width="1" height="76" fill="#000"/>
<rect x="1200" y="280" width="11" height="3" fill="#000"/>
<rect x="1201" y="281" width="9" height="1" fill="#ff0000"/>
<rect x="1221" y="256" width="1" height="154" fill="#000"/>
<rect x="1216" y="279" width="11" height="116" fill="#000"/>
<rect x="1217" y="280" width="9" height="114" fill="#00ff00"/>
<rect x="1237" y="359" width="1" height="46" fill="#000"/>
<rect x="1232" y="364" width="11" height="30" fill="#000"/>
<rect x="1233" y="365" width="9" height="28" fill="#ff0000"/>
<rect x="1253" y="360" width="1" height="38" fill="#000"/>
<rect x="1248" y="364" width="11" height="23" fill="#000"/>
<rect x="1249" y="365" width="9" height="21" fill="#00ff00"/>
<rect x="1269" y="359" width="1" height="35" fill="#000"/>
<rect x="1264" y="366" width="11" height="21" fill="#000"/>
<rect x="1265" y="367" width="9" height="19" fill="#ff0000"/>
<rect x="1285" y="338" width="1" height="73" fill="#000"/>
<rect x="1280" y="366" width="11" height="3" fill="#000"/>
<rect x="1281" y="367" width="9" height="1" fill="#00ff00"/>
<rect x="1301" y="350" width="1" height="82" fill="#000"/>
<rect x="1296" y="368" width="11" height="19" fill="#000"/>
<rect x="1297" y="369" width="9" height="17" fill="#00ff00"/>
<rect x="1317" y="375" width="1" height="43" fill="#000"/>
<rect x="1312" y="385" width="11" height="9" fill="#000"/>
<rect x="1313" y="386" width="9" height="7" fill="#00ff00"/>
<rect x="1333" y="336" width="1" height="60" fill="#000"/>
<rect x="1328" y="340" width="11" height="54" fill="#000"/>
<rect x="1329" y="341" width="9" height="52" fill="#ff0000"/>
<rect x="1349" y="332" width="1" height="20" fill="#000"/>
<rect x="1344" y="340" width="11" height="7" fill="#000"/>
<rect x="1345" y="341" width="9" height="5" fill="#00ff00"/>
</g>
<rect x="5" y="274" width="1639" height="2" fill="#ff0000"/>
<rect x="4" y="272" width="6" height="6" fill="#ff0000"/>
<rect x="6" y="274" width="2" height="2" fill="#fff"/>
<rect x="1638" y="272" width="6" height="6" fill="#ff0000"/>
<rect x="1640" y="274" width="2" height="2" fill="#fff"/>
<rect x="1646" y="269" width="41" height="11" fill="#ff0000"/>
<text x="1650" y="278" font-size="9.9" fill="#fff" stroke="#fff" stroke-width="0.12" textLength="33" lengthAdjust="spacingAndGlyphs">0.89909</text>
<rect x="5" y="310" width="1639" height="2" fill="#ff0000"/>
<rect x="4" y="308" width="6" height="6" fill="#ff0000"/>
<rect x="6" y="310" width="2" height="2" fill="#fff"/>
<rect x="1638" y="308" width="6" height="6" fill="#ff0000"/>
<rect x="1640" y="310" width="2" height="2" fill="#fff"/>
<rect x="1646" y="305" width="41" height="11" fill="#ff0000"/>
<text x="1650" y="314" font-size="9.9" fill="#fff" stroke="#fff" stroke-width="0.12" textLength="33" lengthAdjust="spacingAndGlyphs">0.89804</text>
<rect x="5" y="362" width="1639" height="2" fill="#32cd32"/>
<rect x="4" y="360" width="6" height="6" fill="#32cd32"/>
<rect x="6" y="362" width="2" height="2" fill="#fff"/>
<rect x="1638" y="360" width="6" height="6" fill="#32cd32"/>
<rect x="1640" y="362" width="2" height="2" fill="#fff"/>
<rect x="1646" y="357" width="41" height="11" fill="#32cd32"/>
<text x="1650" y="366" font-size="9.9" fill="#fff" stroke="#fff" stroke-width="0.12" textLength="33" lengthAdjust="spacingAndGlyphs">0.89651</text>
<rect x="5" y="404" width="1639" height="2" fill="#0000ff"/>
<rect x="4" y="402" width="6" height="6" fill="#0000ff"/>
<rect x="6" y="404" width="2" height="2" fill="#fff"/>
<rect x="1638" y="402" width="6" height="6" fill="#0000ff"/>
<rect x="1640" y="404" width="2" height="2" fill="#fff"/>
<rect x="1646" y="399" width="41" height="11" fill="#0000ff"/>
<text x="1650" y="408" font-size="9.9" fill="#fff" stroke="#fff" stroke-width="0.12" textLength="33" lengthAdjust="spacingAndGlyphs">0.89528</text>
<rect x="5" y="439" width="1639" height="2" fill="#0000ff"/>
<rect x="1646" y="434" width="41" height="11" fill="#0000ff"/>
<text x="1650" y="443" font-size="9.9" fill="#fff" stroke="#fff" stroke-width="0.12" textLength="33" lengthAdjust="spacingAndGlyphs">0.89423</text>
<rect x="1646" y="341" width="41" height="11" fill="#000"/>
<text x="1650" y="350" font-size="9.9" fill="#fff" stroke="#fff" stroke-width="0.12" textLength="33" lengthAdjust="spacingAndGlyphs">0.89702</text>
<path d="M8 32h7l-3.5 4z" fill="#000" shape-rendering="geometricPrecision"/>
<text x="20.5" y="37" font-size="9.9" fill="#000" stroke="#000" stroke-width="0.12" textLength="57" lengthAdjust="spacingAndGlyphs">USDCHF-,H4</text>
<text x="84.5" y="37" font-size="9.9" fill="#000" stroke="#000" stroke-width="0.12" textLength="32.5" lengthAdjust="spacingAndGlyphs">0.89718</text>
<text x="120.5" y="37" font-size="9.9" fill="#000" stroke="#000" stroke-width="0.12" textLength="32.5" lengthAdjust="spacingAndGlyphs">0.89741</text>
<text x="156" y="37" font-size="9.9" fill="#000" stroke="#000" stroke-width="0.12" textLength="33" lengthAdjust="spacingAndGlyphs">0.89687</text>
<text x="192" y="37" font-size="9.9" fill="#000" stroke="#000" stroke-width="0.12" textLength="33" lengthAdjust="spacingAndGlyphs">0.89702</text>
<path d="M1375.5 26h10l-5 5.5z" fill="#000" shape-rendering="geometricPrecision"/>
<g shape-rendering="geometricPrecision">
<path d="M1339.8 456.6 L1400 424" stroke="#e8141c" stroke-width="3.4" stroke-linecap="butt"/>
<path d="M1393.3 417.1 L1413.3 416.4 L1402.4 433 Z" fill="#e8141c"/>
</g>
<text x="9" y="610" font-size="9.9" fill="#000" stroke="#000" stroke-width="0.12" textLength="151" lengthAdjust="spacingAndGlyphs">MACD(12,26,9) -0.000009 0.000032</text>
<g clip-path="url(#cmacd)">
<rect x="4" y="629" width="3" height="27" fill="#00ff00"/>
<rect x="20" y="629" width="3" height="24" fill="#00ff00"/>
<rect x="36" y="629" width="3" height="21" fill="#00ff00"/>
<rect x="52" y="629" width="3" height="21" fill="#00ff00"/>
<rect x="68" y="629" width="3" height="37" fill="#00ff00"/>
<rect x="84" y="629" width="3" height="54" fill="#00ff00"/>
<rect x="100" y="629" width="3" height="65" fill="#00ff00"/>
<rect x="116" y="629" width="3" height="71" fill="#00ff00"/>
<rect x="132" y="629" width="3" height="78" fill="#00ff00"/>
<rect x="148" y="629" width="3" height="82" fill="#00ff00"/>
<rect x="164" y="629" width="3" height="78" fill="#00ff00"/>
<rect x="180" y="629" width="3" height="75" fill="#00ff00"/>
<rect x="196" y="629" width="3" height="71" fill="#00ff00"/>
<rect x="212" y="629" width="3" height="67" fill="#00ff00"/>
<rect x="228" y="629" width="3" height="65" fill="#00ff00"/>
<rect x="244" y="629" width="3" height="61" fill="#00ff00"/>
<rect x="260" y="629" width="3" height="55" fill="#00ff00"/>
<rect x="276" y="629" width="3" height="48" fill="#00ff00"/>
<rect x="292" y="629" width="3" height="44" fill="#00ff00"/>
<rect x="308" y="629" width="3" height="38" fill="#00ff00"/>
<rect x="324" y="629" width="3" height="35" fill="#00ff00"/>
<rect x="340" y="629" width="3" height="28" fill="#00ff00"/>
<rect x="356" y="629" width="3" height="21" fill="#00ff00"/>
<rect x="372" y="629" width="3" height="16" fill="#00ff00"/>
<rect x="388" y="629" width="3" height="13" fill="#00ff00"/>
<rect x="404" y="629" width="3" height="9" fill="#00ff00"/>
<rect x="420" y="629" width="3" height="5" fill="#00ff00"/>
<rect x="436" y="629" width="3" height="4" fill="#00ff00"/>
<rect x="452" y="629" width="3" height="8" fill="#00ff00"/>
<rect x="468" y="629" width="3" height="15" fill="#00ff00"/>
<rect x="484" y="629" width="3" height="21" fill="#00ff00"/>
<rect x="500" y="629" width="3" height="26" fill="#00ff00"/>
<rect x="516" y="629" width="3" height="28" fill="#00ff00"/>
<rect x="532" y="629" width="3" height="28" fill="#00ff00"/>
<rect x="548" y="629" width="3" height="22" fill="#00ff00"/>
<rect x="564" y="629" width="3" height="21" fill="#00ff00"/>
<rect x="580" y="629" width="3" height="20" fill="#00ff00"/>
<rect x="596" y="629" width="3" height="15" fill="#00ff00"/>
<rect x="612" y="629" width="3" height="5" fill="#00ff00"/>
<rect x="628" y="629" width="3" height="1" fill="#00ff00"/>
<rect x="644" y="626" width="3" height="3" fill="#00ff00"/>
<rect x="660" y="625" width="3" height="4" fill="#00ff00"/>
<rect x="676" y="627" width="3" height="2" fill="#00ff00"/>
<rect x="692" y="629" width="3" height="1" fill="#00ff00"/>
<rect x="708" y="629" width="3" height="3" fill="#00ff00"/>
<rect x="724" y="629" width="3" height="11" fill="#00ff00"/>
<rect x="740" y="629" width="3" height="12" fill="#00ff00"/>
<rect x="756" y="629" width="3" height="11" fill="#00ff00"/>
<rect x="772" y="629" width="3" height="10" fill="#00ff00"/>
<rect x="788" y="629" width="3" height="10" fill="#00ff00"/>
<rect x="804" y="629" width="3" height="12" fill="#00ff00"/>
<rect x="820" y="629" width="3" height="12" fill="#00ff00"/>
<rect x="836" y="629" width="3" height="13" fill="#00ff00"/>
<rect x="852" y="629" width="3" height="15" fill="#00ff00"/>
<rect x="868" y="629" width="3" height="16" fill="#00ff00"/>
<rect x="884" y="629" width="3" height="15" fill="#00ff00"/>
<rect x="900" y="629" width="3" height="11" fill="#00ff00"/>
<rect x="916" y="629" width="3" height="8" fill="#00ff00"/>
<rect x="932" y="629" width="3" height="3" fill="#00ff00"/>
<rect x="948" y="628" width="3" height="1" fill="#00ff00"/>
<rect x="964" y="626" width="3" height="3" fill="#00ff00"/>
<rect x="980" y="622" width="3" height="7" fill="#00ff00"/>
<rect x="996" y="620" width="3" height="9" fill="#00ff00"/>
<rect x="1012" y="624" width="3" height="5" fill="#00ff00"/>
<rect x="1028" y="620" width="3" height="9" fill="#00ff00"/>
<rect x="1044" y="615" width="3" height="14" fill="#00ff00"/>
<rect x="1060" y="612" width="3" height="17" fill="#00ff00"/>
<rect x="1076" y="611" width="3" height="18" fill="#00ff00"/>
<rect x="1092" y="609" width="3" height="20" fill="#00ff00"/>
<rect x="1108" y="604" width="3" height="25" fill="#00ff00"/>
<rect x="1124" y="612" width="3" height="17" fill="#00ff00"/>
<rect x="1140" y="619" width="3" height="10" fill="#00ff00"/>
<rect x="1156" y="623" width="3" height="6" fill="#00ff00"/>
<rect x="1172" y="627" width="3" height="2" fill="#00ff00"/>
<rect x="1188" y="623" width="3" height="6" fill="#00ff00"/>
<rect x="1204" y="620" width="3" height="9" fill="#00ff00"/>
<rect x="1220" y="624" width="3" height="5" fill="#00ff00"/>
<rect x="1236" y="625" width="3" height="4" fill="#00ff00"/>
<rect x="1252" y="627" width="3" height="2" fill="#00ff00"/>
<rect x="1268" y="628" width="3" height="1" fill="#00ff00"/>
<rect x="1284" y="629" width="3" height="1" fill="#00ff00"/>
<rect x="1300" y="629" width="3" height="2" fill="#00ff00"/>
<rect x="1316" y="629" width="3" height="4" fill="#00ff00"/>
<rect x="1332" y="629" width="3" height="2" fill="#00ff00"/>
<rect x="1348" y="629" width="3" height="1" fill="#00ff00"/>
<polyline points="5,637.0 21,640.0 37,643.0 53,645.0 69,649.0 85,654.0 101,661.0 117,666.0 133,673.0 149,679.0 165,685.0 181,691.0 197,696.0 213,700.0 229,700.0 245,700.0 261,699.0 277,694.0 293,690.0 309,686.0 325,681.0 341,678.0 357,673.0 373,667.0 389,661.0 405,656.0 421,651.0 437,648.0 453,644.0 469,641.0 485,640.6 501,640.6 517,642.0 533,644.0 549,646.0 565,647.0 581,649.0 597,650.0 613,650.0 629,647.0 645,644.0 661,640.0 677,637.0 693,634.0 709,632.0 725,631.0 741,631.0 757,632.0 773,633.0 789,634.0 805,636.0 821,637.0 837,638.0 853,640.0 869,640.0 885,641.0 901,641.0 917,641.0 933,641.0 949,639.0 965,637.5 981,635.0 997,632.0 1013,630.0 1029,628.0 1045,625.0 1061,622.0 1077,620.5 1093,618.0 1109,615.0 1125,614.0 1141,614.0 1157,614.5 1173,615.5 1189,616.0 1205,616.0 1221,618.5 1237,620.5 1253,622.5 1269,624.5 1285,625.5 1301,626.5 1317,627.0 1333,627.5 1349,628.0" fill="none" stroke="#ff0000" stroke-width="2"/>
</g>
<text x="1648" y="608" font-size="9.9" fill="#000" stroke="#000" stroke-width="0.12" textLength="37" lengthAdjust="spacingAndGlyphs">0.001349</text>
<rect x="1645" y="629" width="2" height="1" fill="#000"/>
<text x="1648" y="633" font-size="9.9" fill="#000" stroke="#000" stroke-width="0.12" textLength="18" lengthAdjust="spacingAndGlyphs">0.00</text>
<text x="1648" y="713" font-size="9.9" fill="#000" stroke="#000" stroke-width="0.12" textLength="35" lengthAdjust="spacingAndGlyphs">-0.00381</text>
<text x="9" y="731" font-size="9.9" fill="#000" stroke="#000" stroke-width="0.12" textLength="68" lengthAdjust="spacingAndGlyphs">RSI(14) 51.4635</text>
<path d="M6 740.5H1641" stroke="#000" stroke-width="1" stroke-dasharray="3,3"/>
<path d="M6 770.5H1641" stroke="#000" stroke-width="1" stroke-dasharray="3,3"/>
<path d="M6 806.5H1641" stroke="#000" stroke-width="1" stroke-dasharray="3,3"/>
<g clip-path="url(#crsi)">
<polyline points="5,780.0 21,772.0 37,772.0 53,774.0 69,789.7 85,789.7 101,788.7 117,788.7 133,789.7 149,788.3 165,780.7 181,780.7 197,779.7 213,779.7 229,780.7 245,779.3 261,773.9 277,774.7 293,774.7 309,773.7 325,774.7 341,770.7 357,764.8 373,768.2 389,769.8 405,766.8 421,766.8 437,771.3 453,777.7 469,782.7 485,783.3 501,783.7 517,781.3 533,777.7 549,769.8 565,773.7 581,773.7 597,766.6 613,760.8 629,765.6 645,766.6 661,768.6 677,772.7 693,773.3 709,773.7 725,782.7 741,774.3 757,771.9 773,771.3 789,774.7 805,774.7 821,774.7 837,775.3 853,777.7 869,776.3 885,774.3 901,771.3 917,763.8 933,763.8 949,765.6 965,765.6 981,761.6 997,765.2 1013,774.9 1029,762.6 1045,760.8 1061,761.8 1077,764.8 1093,760.8 1109,759.2 1125,775.7 1141,775.7 1157,774.7 1173,774.7 1189,765.2 1205,765.2 1221,772.3 1237,771.3 1253,772.3 1269,770.7 1285,771.5 1301,772.5 1317,772.5 1333,769.5 1349,768.5" fill="none" stroke="#1e90ff" stroke-width="2"/>
</g>
<text x="1648" y="729" font-size="9.9" fill="#000" stroke="#000" stroke-width="0.12" textLength="14" lengthAdjust="spacingAndGlyphs">100</text>
<text x="1648" y="745" font-size="9.9" fill="#000" stroke="#000" stroke-width="0.12" textLength="9.5" lengthAdjust="spacingAndGlyphs">80</text>
<text x="1648" y="774" font-size="9.9" fill="#000" stroke="#000" stroke-width="0.12" textLength="9.5" lengthAdjust="spacingAndGlyphs">50</text>
<text x="1648" y="810" font-size="9.9" fill="#000" stroke="#000" stroke-width="0.12" textLength="9.5" lengthAdjust="spacingAndGlyphs">15</text>
<text x="1648" y="820" font-size="9.9" fill="#000" stroke="#000" stroke-width="0.12" textLength="4.5" lengthAdjust="spacingAndGlyphs">0</text>
<rect x="5" y="823" width="1" height="3" fill="#000"/>
<text x="4.7" y="835" font-size="9.8" fill="#000" stroke="#000" stroke-width="0.15" textLength="49.5" lengthAdjust="spacingAndGlyphs">14 Jun 2023</text>
<rect x="69" y="823" width="1" height="3" fill="#000"/>
<text x="68.7" y="835" font-size="9.8" fill="#000" stroke="#000" stroke-width="0.15" textLength="53" lengthAdjust="spacingAndGlyphs">15 Jun 12:00</text>
<rect x="133" y="823" width="1" height="3" fill="#000"/>
<text x="132.7" y="835" font-size="9.8" fill="#000" stroke="#000" stroke-width="0.15" textLength="53" lengthAdjust="spacingAndGlyphs">16 Jun 04:00</text>
<rect x="197" y="823" width="1" height="3" fill="#000"/>
<text x="196.7" y="835" font-size="9.8" fill="#000" stroke="#000" stroke-width="0.15" textLength="53" lengthAdjust="spacingAndGlyphs">18 Jun 23:00</text>
<rect x="261" y="823" width="1" height="3" fill="#000"/>
<text x="260.7" y="835" font-size="9.8" fill="#000" stroke="#000" stroke-width="0.15" textLength="53" lengthAdjust="spacingAndGlyphs">19 Jun 12:00</text>
<rect x="325" y="823" width="1" height="3" fill="#000"/>
<text x="324.7" y="835" font-size="9.8" fill="#000" stroke="#000" stroke-width="0.15" textLength="53" lengthAdjust="spacingAndGlyphs">20 Jun 04:00</text>
<rect x="389" y="823" width="1" height="3" fill="#000"/>
<text x="388.7" y="835" font-size="9.8" fill="#000" stroke="#000" stroke-width="0.15" textLength="53" lengthAdjust="spacingAndGlyphs">20 Jun 20:00</text>
<rect x="453" y="823" width="1" height="3" fill="#000"/>
<text x="452.7" y="835" font-size="9.8" fill="#000" stroke="#000" stroke-width="0.15" textLength="53" lengthAdjust="spacingAndGlyphs">21 Jun 12:00</text>
<rect x="517" y="823" width="1" height="3" fill="#000"/>
<text x="516.7" y="835" font-size="9.8" fill="#000" stroke="#000" stroke-width="0.15" textLength="53" lengthAdjust="spacingAndGlyphs">22 Jun 04:00</text>
<rect x="581" y="823" width="1" height="3" fill="#000"/>
<text x="580.7" y="835" font-size="9.8" fill="#000" stroke="#000" stroke-width="0.15" textLength="53" lengthAdjust="spacingAndGlyphs">22 Jun 20:00</text>
<rect x="645" y="823" width="1" height="3" fill="#000"/>
<text x="644.7" y="835" font-size="9.8" fill="#000" stroke="#000" stroke-width="0.15" textLength="53" lengthAdjust="spacingAndGlyphs">23 Jun 12:00</text>
<rect x="709" y="823" width="1" height="3" fill="#000"/>
<text x="708.7" y="835" font-size="9.8" fill="#000" stroke="#000" stroke-width="0.15" textLength="53" lengthAdjust="spacingAndGlyphs">26 Jun 04:00</text>
<rect x="773" y="823" width="1" height="3" fill="#000"/>
<text x="772.7" y="835" font-size="9.8" fill="#000" stroke="#000" stroke-width="0.15" textLength="53" lengthAdjust="spacingAndGlyphs">26 Jun 20:00</text>
<rect x="837" y="823" width="1" height="3" fill="#000"/>
<text x="836.7" y="835" font-size="9.8" fill="#000" stroke="#000" stroke-width="0.15" textLength="53" lengthAdjust="spacingAndGlyphs">27 Jun 12:00</text>
<rect x="901" y="823" width="1" height="3" fill="#000"/>
<text x="900.7" y="835" font-size="9.8" fill="#000" stroke="#000" stroke-width="0.15" textLength="53" lengthAdjust="spacingAndGlyphs">28 Jun 04:00</text>
<rect x="965" y="823" width="1" height="3" fill="#000"/>
<text x="964.7" y="835" font-size="9.8" fill="#000" stroke="#000" stroke-width="0.15" textLength="53" lengthAdjust="spacingAndGlyphs">28 Jun 20:00</text>
<rect x="1029" y="823" width="1" height="3" fill="#000"/>
<text x="1028.7" y="835" font-size="9.8" fill="#000" stroke="#000" stroke-width="0.15" textLength="53" lengthAdjust="spacingAndGlyphs">29 Jun 12:00</text>
<rect x="1093" y="823" width="1" height="3" fill="#000"/>
<text x="1092.7" y="835" font-size="9.8" fill="#000" stroke="#000" stroke-width="0.15" textLength="53" lengthAdjust="spacingAndGlyphs">30 Jun 04:00</text>
<rect x="1157" y="823" width="1" height="3" fill="#000"/>
<text x="1156.7" y="835" font-size="9.8" fill="#000" stroke="#000" stroke-width="0.15" textLength="45.5" lengthAdjust="spacingAndGlyphs">2 Jul 23:00</text>
<rect x="1221" y="823" width="1" height="3" fill="#000"/>
<text x="1220.7" y="835" font-size="9.8" fill="#000" stroke="#000" stroke-width="0.15" textLength="45.5" lengthAdjust="spacingAndGlyphs">3 Jul 12:00</text>
<rect x="1285" y="823" width="1" height="3" fill="#000"/>
<text x="1284.7" y="835" font-size="9.8" fill="#000" stroke="#000" stroke-width="0.15" textLength="45.5" lengthAdjust="spacingAndGlyphs">4 Jul 04:00</text>
<rect x="1349" y="823" width="1" height="3" fill="#000"/>
<text x="1348.7" y="835" font-size="9.8" fill="#000" stroke="#000" stroke-width="0.15" textLength="45.5" lengthAdjust="spacingAndGlyphs">4 Jul 20:00</text>
</svg></body></html>
